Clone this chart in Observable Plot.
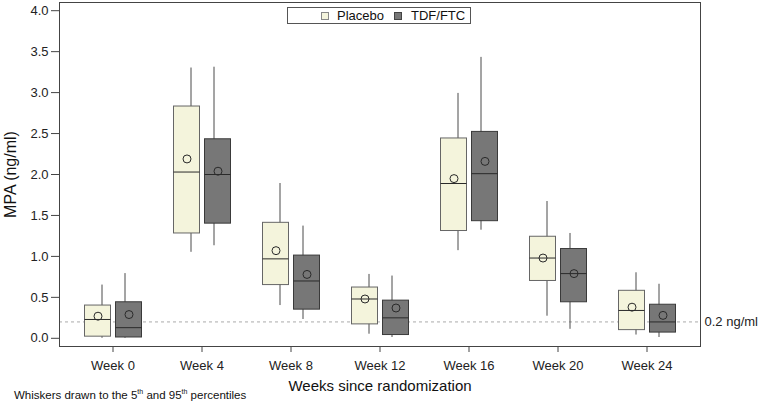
<!DOCTYPE html>
<html>
<head>
<meta charset="utf-8">
<script src="https://cdn.jsdelivr.net/npm/d3@7"></script>
<script src="https://cdn.jsdelivr.net/npm/@observablehq/plot@0.6"></script>
<style>
  body { margin: 0; background: #fff; font-family: "Liberation Sans", Arial, sans-serif; }
  #wrap { position: relative; width: 759px; height: 406px; }
  #legend { position: absolute; left: 287px; top: 7px; width: 182px; height: 15px; border: 1px solid #555; background: #fff; font-size: 13px; line-height: 15px; color: #111; white-space: nowrap; }
  .sw { position: absolute; top: 4px; width: 8px; height: 8px; box-sizing: border-box; }
  .lt { position: absolute; top: 0; }
  #caption { position: absolute; left: 14px; top: 389px; font-size: 11.5px; line-height: 12px; color: #111; white-space: nowrap; }
  #caption sup { font-size: 7px; line-height: 0; vertical-align: 5px; }
</style>
</head>
<body>
<div id="wrap"></div>
<script>
// ---- Data ----
const weeks = ["Week 0", "Week 4", "Week 8", "Week 12", "Week 16", "Week 20", "Week 24"];
const groups = ["Placebo", "TDF/FTC"];
const groupColors = ["#f4f4dc", "#777777"];

const placeboP5     = [0.00, 1.05, 0.40, 0.05, 1.07, 0.27, 0.04];
const placeboQ1     = [0.02, 1.28, 0.65, 0.17, 1.31, 0.70, 0.10];
const placeboMedian = [0.23, 2.03, 0.97, 0.48, 1.89, 0.98, 0.34];
const placeboQ3     = [0.40, 2.83, 1.41, 0.62, 2.44, 1.24, 0.58];
const placeboP95    = [0.65, 3.30, 1.89, 0.78, 2.99, 1.67, 0.80];
const placeboMean   = [0.27, 2.19, 1.07, 0.48, 1.95, 0.98, 0.38];

const tdfP5     = [0.00, 1.13, 0.23, 0.01, 1.32, 0.11, 0.01];
const tdfQ1     = [0.01, 1.40, 0.35, 0.04, 1.43, 0.44, 0.07];
const tdfMedian = [0.13, 2.00, 0.70, 0.25, 2.01, 0.79, 0.20];
const tdfQ3     = [0.44, 2.43, 1.01, 0.46, 2.52, 1.09, 0.41];
const tdfP95    = [0.79, 3.31, 1.37, 0.76, 3.43, 1.28, 0.66];
const tdfMean   = [0.29, 2.04, 0.78, 0.37, 2.16, 0.79, 0.28];

const yTicks = [0, 0.5, 1, 1.5, 2, 2.5, 3, 3.5, 4];
const refLine = [{value: 0.2, label: "0.2 ng/ml"}];
const xTitle = "Weeks since randomization";
const yTitle = "MPA (ng/ml)";

// ---- Build table ----
const series = {
  "Placebo": [placeboP5, placeboQ1, placeboMedian, placeboQ3, placeboP95, placeboMean],
  "TDF/FTC": [tdfP5, tdfQ1, tdfMedian, tdfQ3, tdfP95, tdfMean]
};
const rows = [];
weeks.forEach((w, i) => {
  groups.forEach(g => {
    const [p5, q1, med, q3, p95, mean] = series[g];
    rows.push({week: w, group: g, p5: p5[i], q1: q1[i], median: med[i], q3: q3[i], p95: p95[i], mean: mean[i]});
  });
});

// layout offsets within each week band (pixels)
const boxShift = {"Placebo": -15, "TDF/FTC": 16};
const whiskerShift = {"Placebo": -11, "TDF/FTC": 12};
const boxInset = 31.5;
const boxStroke = {"Placebo": "#666", "TDF/FTC": "#3a3a3a"};

const groupMarks = groups.flatMap(g => {
  const d = rows.filter(r => r.group === g);
  return [
    Plot.ruleX(d, {x: "week", y1: "p5", y2: "p95", dx: whiskerShift[g], stroke: "#4a4a4a", strokeWidth: 1}),
    Plot.barY(d, {x: "week", y1: "q1", y2: "q3", fill: "group", stroke: boxStroke[g], strokeWidth: 1, insetLeft: boxInset, insetRight: boxInset, dx: boxShift[g]}),
    Plot.tickY(d, {x: "week", y: "median", stroke: "#2a2a2a", strokeWidth: 1, insetLeft: boxInset, insetRight: boxInset, dx: boxShift[g]}),
    Plot.dot(d, {x: "week", y: "mean", r: 4, stroke: "#2a2a2a", strokeWidth: 1, fill: "none", dx: boxShift[g]})
  ];
});

const chart = Plot.plot({
  width: 759,
  height: 406,
  marginLeft: 59,
  marginRight: 59,
  marginTop: 2,
  marginBottom: 60,
  style: {fontFamily: "'Liberation Sans', Arial, sans-serif", fontSize: "13px", color: "#222", background: "white", overflow: "visible"},
  x: {domain: weeks, paddingInner: 0, paddingOuter: 0.1, label: null},
  y: {domain: [-0.1, 4.1], label: null},
  color: {domain: groups, range: groupColors},
  marks: [
    Plot.ruleY(refLine, {y: "value", stroke: "#aaa", strokeWidth: 1, strokeDasharray: "3,3"}),
    Plot.text(refLine, {y: "value", text: "label", frameAnchor: "right", textAnchor: "start", lineAnchor: "middle", dx: 4, fontSize: 13, fill: "#222"}),
    ...groupMarks,
    Plot.axisX({tickSize: 6, tickPadding: 8, label: null, fontSize: 13, stroke: "#444"}),
    Plot.axisY({ticks: yTicks, tickSize: 8, tickPadding: 3, tickFormat: d3.format(".1f"), label: null, fontSize: 13, stroke: "#444"}),
    Plot.text([xTitle], {text: d => d, frameAnchor: "bottom", textAnchor: "middle", lineAnchor: "middle", dy: 40, fontSize: 15, fill: "#111"}),
    Plot.text([yTitle], {text: d => d, frameAnchor: "left", textAnchor: "middle", lineAnchor: "middle", rotate: -90, dx: -49, fontSize: 16, fill: "#111"}),
    Plot.frame({stroke: "#444", strokeWidth: 1})
  ]
});

const wrap = document.getElementById("wrap");
wrap.appendChild(chart);

// Legend (inside plot frame, top center)
const legend = document.createElement("div");
legend.id = "legend";
const legendPos = [{sw: 33, tx: 49}, {sw: 106, tx: 123}];
const swBorder = ["#888", "#444"];
groups.forEach((g, i) => {
  const sw = document.createElement("span");
  sw.className = "sw";
  sw.style.left = legendPos[i].sw + "px";
  sw.style.background = groupColors[i];
  sw.style.border = "1px solid " + swBorder[i];
  legend.appendChild(sw);
  const t = document.createElement("span");
  t.className = "lt";
  t.style.left = legendPos[i].tx + "px";
  t.textContent = g;
  legend.appendChild(t);
});
wrap.appendChild(legend);

// Caption
const caption = document.createElement("div");
caption.id = "caption";
caption.innerHTML = "Whiskers drawn to the 5<sup>th</sup> and 95<sup>th</sup> percentiles";
wrap.appendChild(caption);
</script>
</body>
</html>
